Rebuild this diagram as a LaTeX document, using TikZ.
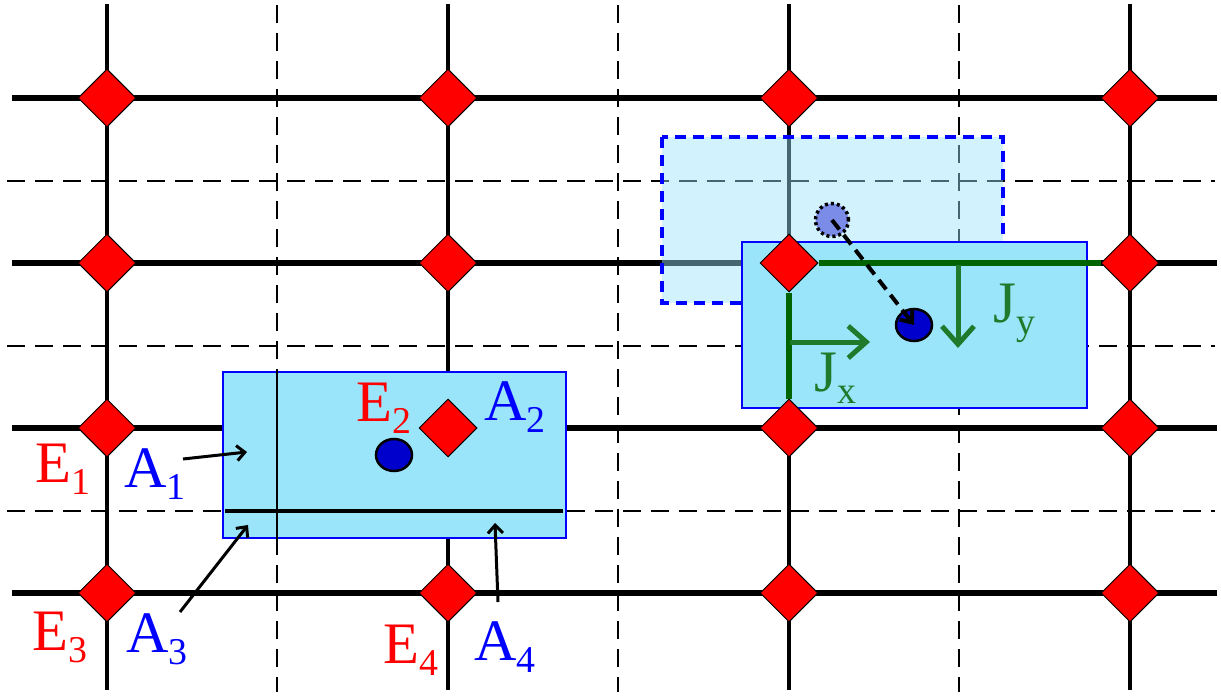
\documentclass[tikz,border=0pt]{standalone}
\usepackage{fontspec}
\setmainfont{Liberation Serif}
\usetikzlibrary{shapes.geometric,arrows.meta}
\definecolor{areafill}{RGB}{155,229,251}
\definecolor{jgreen}{RGB}{31,122,43}
\definecolor{lgreen}{RGB}{0,100,0}
\definecolor{dotblue}{RGB}{123,139,232}
\definecolor{ptblue}{RGB}{0,0,204}
\newcommand{\lbl}[2]{#1\raisebox{-12bp}{\fontsize{38}{38}\selectfont #2}}
\begin{document}
\begin{tikzpicture}[x=1bp,y=-1bp,
 gridh/.style={line width=5.2bp},
 gridv/.style={line width=4bp},
 half/.style={line width=2.5bp, dash pattern=on 18bp off 10bp},
 ediamond/.style={diamond, draw=black, line width=1bp, fill=red, minimum width=58bp, minimum height=58bp, inner sep=0pt, aspect=1},
 area/.style={draw=blue, line width=2.4bp, fill=areafill},
 ghost/.style={draw=blue, line width=4.5bp, dash pattern=on 11bp off 7bp, fill=areafill, fill opacity=0.45},
 charge/.style={ellipse, draw=black, line width=2.5bp, fill=ptblue, minimum width=36bp, minimum height=32bp, inner sep=0pt},
 oldcharge/.style={circle, draw=black, line width=3.5bp, dash pattern=on 3bp off 3bp, fill=dotblue, minimum size=33bp, inner sep=0pt},
 lab/.style={anchor=base west, inner sep=0pt, font=\fontsize{59}{59}\selectfont},
 ptr/.style={line width=3bp, -{Straight Barb[length=8bp,width=15bp]}},
 jarrow/.style={jgreen, line width=5bp, -{Straight Barb[length=18bp,width=32bp]}},
 gline/.style={lgreen, line width=5.5bp},
 move/.style={line width=4bp, dash pattern=on 12bp off 7bp, -{Straight Barb[length=10bp,width=16bp]}},
]
\useasboundingbox (0,0) rectangle (1221,698);
% half-grid (dashed)
\foreach \x in {277,618,959} \draw[half] (\x,5) -- (\x,692);
\foreach \y in {181,346,511} \draw[half] (7,\y) -- (1215,\y);
% main grid
\foreach \x in {107,448,789,1130} \draw[gridv] (\x,4) -- (\x,690);
\foreach \y in {98,263,428,593} \draw[gridh] (12,\y) -- (1217,\y);
% moved area (ghost) and current area
\draw[ghost] (662,137) rectangle (1003,303);
\draw[area] (742,242) rectangle (1087,408);
% area 1
\draw[area] (223,372) rectangle (566,538);
\draw[line width=2.5bp] (277,370) -- (277,555);
\draw[line width=3.2bp] (225,511) -- (563,511);
% nodes E
\foreach \c/\x in {1/107,2/448,3/789,4/1130}
  \foreach \r/\y in {1/98,2/263,3/428,4/593}
    \node[ediamond] (d-\r-\c) at (\x,\y) {};
% green current lines
\draw[gline] (d-2-3.east) -- (d-2-4.west);
\draw[gline] (d-2-3.south) -- (d-3-3.north);
% charges
\node[charge] (q1) at (394,455) {};
\node[charge] (q2) at (914,325) {};
\node[oldcharge] (q0) at (832,220) {};
\draw[move] (q0.center) -- (q2.center);
% current arrows
\coordinate (jx0) at (790,342);
\coordinate (jx1) at (870,342);
\coordinate (jy0) at (958,265);
\coordinate (jy1) at (958,348);
\draw[jarrow] (jx0) -- (jx1);
\draw[jarrow] (jy0) -- (jy1);
% labels
\node[lab, red] (e1) at (35,482) {\lbl{E}{1}};
\node[lab, blue] (a1) at (124,487) {\lbl{A}{1}};
\node[lab, red] (e3) at (32,650) {\lbl{E}{3}};
\node[lab, blue] (a3) at (126,652) {\lbl{A}{3}};
\node[lab, red] (e4) at (383,663) {\lbl{E}{4}};
\node[lab, blue] (a4) at (474,660) {\lbl{A}{4}};
\node[lab, red] (e2) at (356,421) {\lbl{E}{2}};
\node[lab, blue] (a2) at (484,420) {\lbl{A}{2}};
\node[lab, jgreen] (jx) at (814,391) {\lbl{J}{x}};
\node[lab, jgreen] (jy) at (993,322) {\lbl{J}{y}};
% pointers
\coordinate (p1s) at (183,459); \coordinate (p1e) at (247,452);
\coordinate (p3s) at (180,612); \coordinate (p3e) at (248,525);
\coordinate (p4s) at (498,602); \coordinate (p4e) at (495,523);
\draw[ptr] (p1s) -- (p1e);
\draw[ptr] (p3s) -- (p3e);
\draw[ptr] (p4s) -- (p4e);
\end{tikzpicture}
\end{document}
